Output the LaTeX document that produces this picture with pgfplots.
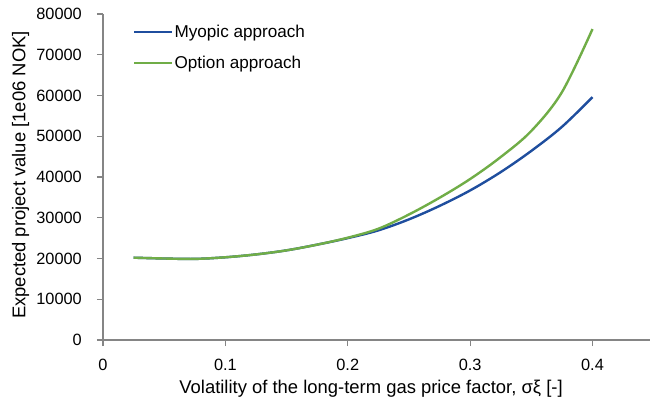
\documentclass[border=0pt]{standalone}
\usepackage{pgfplots}
\pgfplotsset{compat=1.18}
\usepackage{fontspec}
\setmainfont{Liberation Sans}
\definecolor{myblue}{HTML}{1F4E9E}
\definecolor{mygreen}{HTML}{70AD47}
\definecolor{axgray}{HTML}{858585}
\begin{document}
\begin{tikzpicture}[x=1bp,y=1bp]
\path[use as bounding box] (-103bp,-62bp) rectangle (548bp,340bp);
\begin{axis}[
  at={(0,0)}, anchor=south west,
  scale only axis,
  width=547bp, height=326bp,
  xmin=0, xmax=0.447, ymin=0, ymax=80000,
  axis lines*=left,
  axis line style={axgray, line width=1.3bp},
  xtick={0,0.1,0.2,0.3,0.4},
  ytick={0,10000,20000,30000,40000,50000,60000,70000,80000},
  xticklabels={0,0.1,0.2,0.3,0.4},
  tick style={axgray, line width=1.1bp},
  tick align=outside,
  major tick length=6bp,
  scaled y ticks=false,
  /pgf/number format/1000 sep={},
  /pgf/number format/assume math mode=true,
  tick label style={font=\fontsize{16.4}{19}\selectfont, black},
  yticklabel style={anchor=east, inner sep=0pt, xshift=-15bp},
  xticklabel style={anchor=north, inner sep=0pt, yshift=-13bp},
  xlabel={Volatility of the long-term gas price factor, σξ [-]},
  ylabel={Expected project value [1e06 NOK]},
  label style={font=\fontsize{18.5}{22}\selectfont},
  xlabel style={at={(axis description cs:0.49,0)}, anchor=base, yshift=-53bp, inner sep=0pt},
  ylabel style={at={(axis description cs:-0.142,0.506)}, anchor=base, inner sep=0pt},
  legend style={draw=none, fill=none, at={(0.0548,0.97)}, anchor=north west,
    font=\fontsize{17.2}{20}\selectfont, row sep=15bp, inner sep=0pt,
    nodes={inner sep=1bp}},
  legend cell align=left,
  legend image code/.code={\draw[#1, line width=2.4bp] (0bp,0bp) -- (38bp,0bp);},
  clip=false,
]
\addplot[myblue, line width=2.4bp, smooth, tension=0.55] coordinates {
(0.025,20200) (0.05,20000) (0.075,19900) (0.1,20300) (0.125,21000)
(0.15,22000) (0.175,23400) (0.2,25000) (0.225,26900) (0.25,29600)
(0.275,32900) (0.3,36700) (0.325,41200) (0.35,46400) (0.375,52300) (0.4,59600)
};
\addlegendentry{Myopic approach}
\addplot[mygreen, line width=2.4bp, smooth, tension=0.55] coordinates {
(0.025,20200) (0.05,20000) (0.075,19900) (0.1,20300) (0.125,21000)
(0.15,22000) (0.175,23400) (0.2,25100) (0.225,27300) (0.25,30800)
(0.275,34900) (0.3,39500) (0.325,44900) (0.35,51300) (0.375,60800) (0.4,76300)
};
\addlegendentry{Option approach}
\end{axis}
\end{tikzpicture}
\end{document}
